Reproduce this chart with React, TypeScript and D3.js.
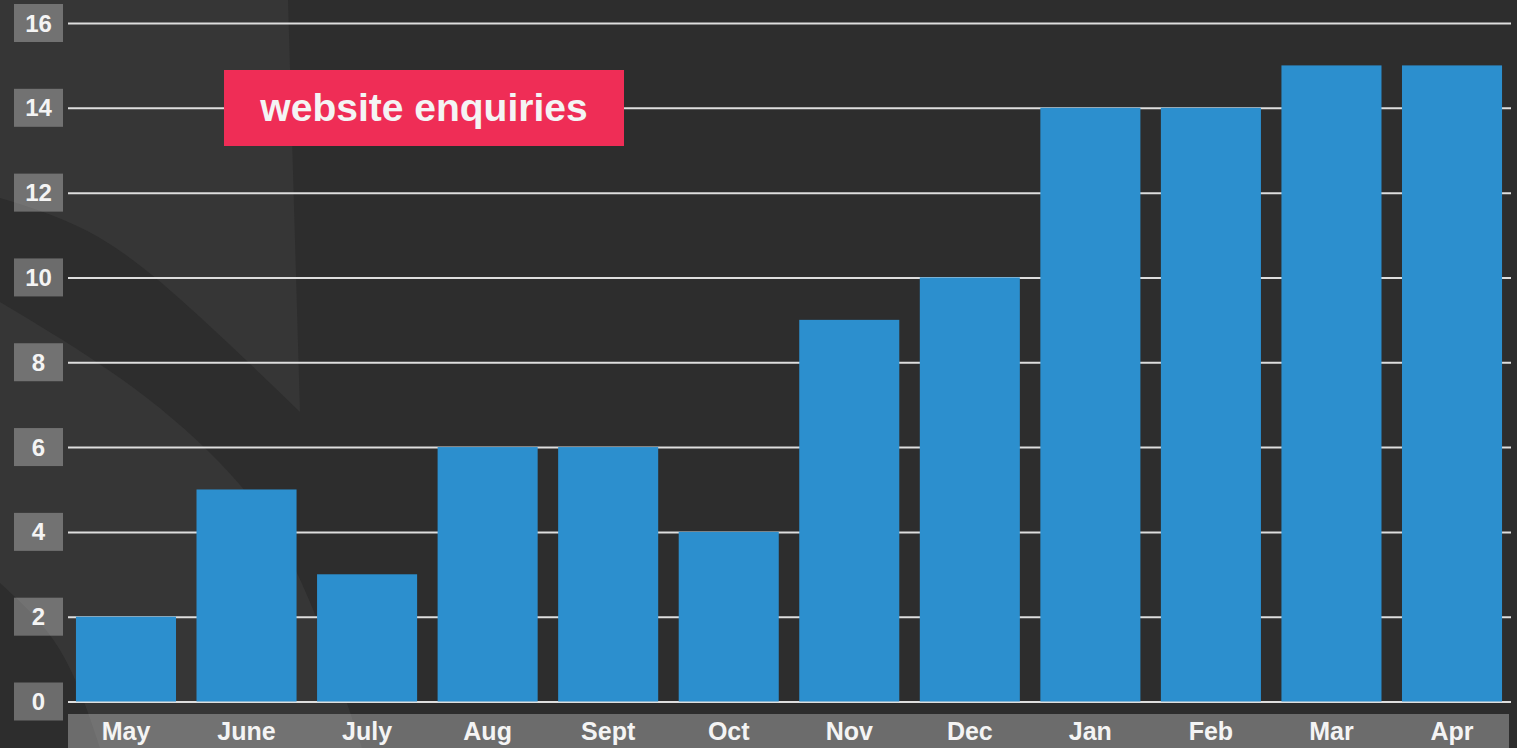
import React from 'react';
import * as d3 from 'd3';

const months = ['May', 'June', 'July', 'Aug', 'Sept', 'Oct', 'Nov', 'Dec', 'Jan', 'Feb', 'Mar', 'Apr'];
const enquiries = [2, 5, 3, 6, 6, 4, 9, 10, 14, 14, 15, 15];
const yTicks = [0, 2, 4, 6, 8, 10, 12, 14, 16];
const chartTitle = 'website enquiries';

const W = 1517;
const H = 748;
const FONT = '"Liberation Sans", Arial, Helvetica, sans-serif';

// decorative swooshes in the background (left side)
const swooshTopEdge: [number, number][] = [
  [300, 412], [200, 317], [100, 238], [0, 198],
];
const swooshBandUpper: [number, number][] = [
  [0, 302], [120, 378], [220, 463], [297, 573], [362, 748],
];
const swooshBandLower: [number, number][] = [
  [100, 748], [60, 650], [0, 583],
];

const App: React.FC = () => {
  const x = d3.scaleBand<string>()
    .domain(months)
    .range([68, 1510])
    .paddingInner(0.17)
    .paddingOuter(0.066);

  const y = d3.scaleLinear()
    .domain([0, 16])
    .range([701.5, 23]);

  const curve = d3.line<[number, number]>().curve(d3.curveNatural);
  const asTail = (s: string | null) => (s || '').replace(/^M/, 'L');

  const shapeA = `M0,0L288,0${asTail(curve(swooshTopEdge))}Z`;
  const shapeC = `${curve(swooshBandUpper)}${asTail(curve(swooshBandLower))}Z`;

  return (
    <svg
      width={W}
      height={H}
      style={{ position: 'absolute', left: 0, top: 0, display: 'block' }}
      fontFamily={FONT}
    >
      <rect x={0} y={0} width={W} height={H} fill="#2d2d2d" />
      <path d={shapeA} fill="#363636" />
      <path d={shapeC} fill="#363636" />

      {/* gridlines */}
      <g>
        {yTicks.map(t => (
          <line
            key={t}
            x1={68}
            x2={1511}
            y1={y(t) + 0.5}
            y2={y(t) + 0.5}
            stroke="#dedede"
            strokeWidth={2}
          />
        ))}
      </g>

      {/* y labels */}
      <g>
        {yTicks.map(t => (
          <g key={t} transform={`translate(0,${y(t)})`}>
            <rect x={14} y={-19} width={49} height={38} fill="rgba(255,255,255,0.3)" />
            <text
              x={38.5}
              y={8.5}
              textAnchor="middle"
              fill="#f4f4f4"
              fontSize={24}
              fontWeight="bold"
            >
              {t}
            </text>
          </g>
        ))}
      </g>

      {/* bars */}
      <g>
        {months.map((m, i) => (
          <rect
            key={m}
            x={x(m)}
            y={y(enquiries[i])}
            width={x.bandwidth()}
            height={y(0) - y(enquiries[i])}
            fill="#2c8fce"
          />
        ))}
      </g>

      {/* x axis band */}
      <rect x={68} y={714} width={1441} height={40} fill="rgba(255,255,255,0.3)" />
      <g>
        {months.map(m => (
          <text
            key={m}
            x={(x(m) || 0) + x.bandwidth() / 2}
            y={740}
            textAnchor="middle"
            fill="#f4f4f4"
            fontSize={25}
            fontWeight="bold"
          >
            {m}
          </text>
        ))}
      </g>

      {/* title box */}
      <rect x={224} y={70} width={400} height={76} fill="#ef2d56" />
      <text
        x={424}
        y={121}
        textAnchor="middle"
        fill="#f4f4f4"
        fontSize={39}
        fontWeight="bold"
      >
        {chartTitle}
      </text>
    </svg>
  );
};

export default App;
